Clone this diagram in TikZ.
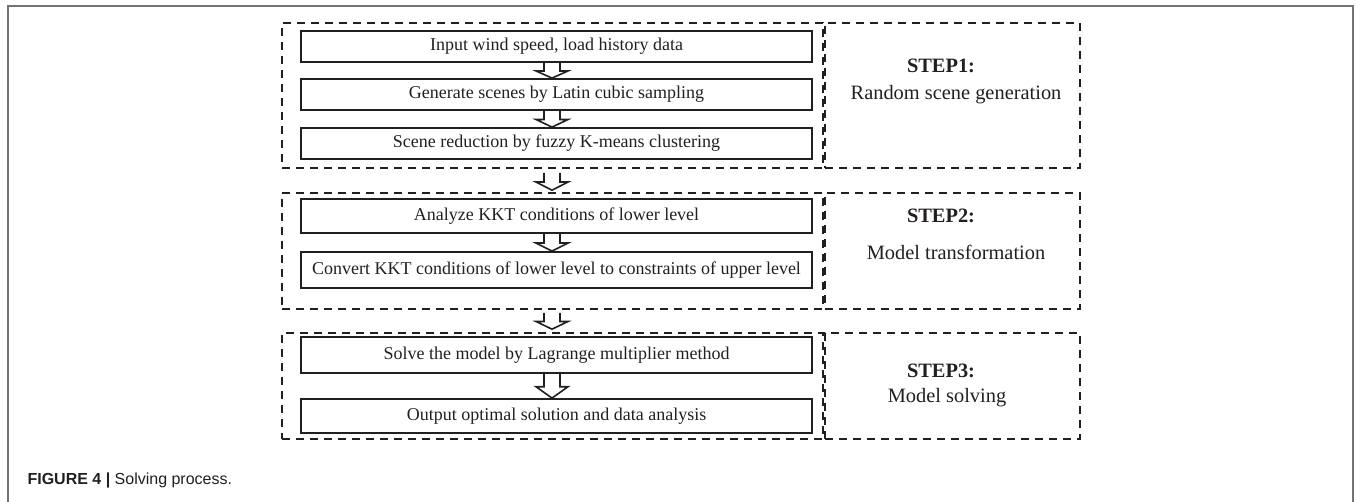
\documentclass[tikz,border=0pt]{standalone}
\usepackage{fontspec}
\setmainfont{Liberation Serif}
\newfontfamily\capfont{Liberation Sans}
\usetikzlibrary{calc}
\definecolor{ink}{HTML}{231F20}
\tikzset{taskbox/.style={draw=ink, line width=1.8pt, minimum width=511pt, inner sep=0pt, text=ink, font=\fontsize{18}{21}\selectfont},
         groupbox/.style={draw=ink, line width=1.6pt, dash pattern=on 8pt off 6pt, inner sep=0pt},
         steptitle/.style={anchor=base, text=ink, font=\fontsize{20.4}{24}\selectfont\bfseries},
         stepnote/.style={anchor=base, text=ink, font=\fontsize{20.4}{24}\selectfont},
         hollow/.style={draw=ink, line width=1.6pt, line join=miter}}
\newcommand{\flowarrow}[2]{%
   \draw[hollow] let \p1=($#1+(-4.5,0)$), \p2=($#2+(-4.5,0)$) in
     (\x1-8pt,\y1) -- (\x1-8pt,{\y2+0.47*(\y1-\y2)}) -- (\x1-16pt,{\y2+0.47*(\y1-\y2)}) --
     (\x1,\y2) -- (\x1+16pt,{\y2+0.47*(\y1-\y2)}) -- (\x1+8pt,{\y2+0.47*(\y1-\y2)}) -- (\x1+8pt,\y1);
}

\begin{document}
\begin{tikzpicture}[x=1pt,y=-1pt]
   \useasboundingbox (0,0) rectangle (1356,502);
   \draw[black!55,line width=1.2pt] (8,502) -- (8,6) -- (1353,6) -- (1353,502);

   \node[groupbox,minimum width=541pt,minimum height=145pt] (g1) at (552.5, 95.5) {};
   \node[groupbox,minimum width=541pt,minimum height=116pt] (g2) at (552.5,251.0) {};
   \node[groupbox,minimum width=541pt,minimum height=106pt] (g3) at (552.5,386.0) {};
   \node[groupbox,minimum width=255pt,minimum height=145pt] (s1) at (952.5, 95.5) {};
   \node[groupbox,minimum width=255pt,minimum height=116pt] (s2) at (952.5,251.0) {};
   \node[groupbox,minimum width=255pt,minimum height=106pt] (s3) at (952.5,386.0) {};

   \node[taskbox,minimum height=31pt] (b1) at (556.5, 46.5) {Input wind speed, load history data};
   \node[taskbox,minimum height=31pt] (b2) at (556.5, 94.5) {Generate scenes by Latin cubic sampling};
   \node[taskbox,minimum height=31pt] (b3) at (556.5,143.5) {Scene reduction by fuzzy K-means clustering};
   \node[taskbox,minimum height=34pt] (b4) at (556.5,216.0) {Analyze KKT conditions of lower level};
   \node[taskbox,minimum height=36pt] (b5) at (556.5,270.0) {Convert KKT conditions of lower level to constraints of upper level};
   \node[taskbox,minimum height=36pt] (b6) at (556.5,355.0) {Solve the model by Lagrange multiplier method};
   \node[taskbox,minimum height=34pt] (b7) at (556.5,416.0) {Output optimal solution and data analysis};

   \node[steptitle] (t1) at (941, 72.7) {STEP1:};
   \node[stepnote]  (n1) at (956,100.0) {Random scene generation};
   \node[steptitle] (t2) at (941,222.7) {STEP2:};
   \node[stepnote]  (n2) at (956,260.0) {Model transformation};
   \node[steptitle] (t3) at (941,377.0) {STEP3:};
   \node[stepnote]  (n3) at (947,402.0) {Model solving};

   \flowarrow{(b1.south)}{(b2.north)}
   \flowarrow{(b2.south)}{(b3.north)}
   \flowarrow{(b4.south)}{(b5.north)}
   \flowarrow{(b6.south)}{(b7.north)}
   \flowarrow{($(g1.south -| b3)+(0,4)$)}{($(g2.north -| b4)+(0,-2)$)}
   \flowarrow{($(g2.south -| b5)+(0,3)$)}{($(g3.north -| b6)+(0,-3)$)}

   \node[anchor=base west,text=ink,font=\capfont\fontsize{16}{19}\selectfont] (cap) at (24,484)
      {\textbf{FIGURE 4 |} Solving process.};
\end{tikzpicture}
\end{document}
